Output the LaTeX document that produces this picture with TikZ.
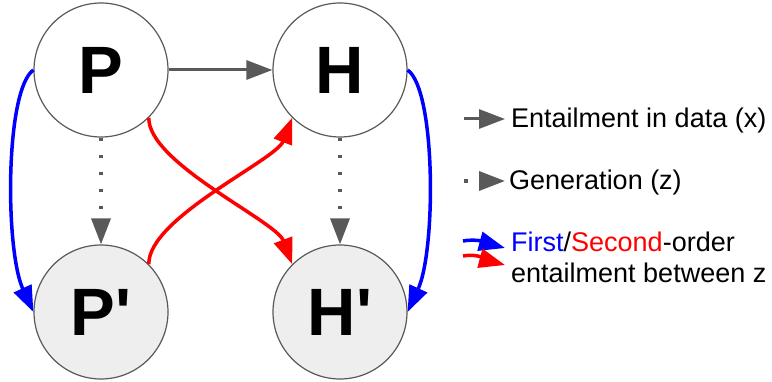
\documentclass[tikz,border=0pt]{standalone}
\usepackage{fontspec}
\setmainfont{Liberation Sans}[Ligatures=TeXOff]
\usepackage{xcolor}
\usetikzlibrary{arrows.meta}
\definecolor{edgegray}{HTML}{595959}
\definecolor{fillgray}{HTML}{EEEEEE}
\definecolor{firstblue}{HTML}{0000FF}
\definecolor{secondred}{HTML}{FF0000}

\tikzset{
	var/.style={circle, draw=edgegray, line width=1.2pt, minimum size=134pt, inner sep=0pt,
		font=\bfseries\fontsize{67}{67}\selectfont},
	latent/.style={var, fill=fillgray},
	tip/.style={-{Triangle[length=26pt,width=19pt]}},
	entail/.style={tip, edgegray, line width=3pt},
	gen/.style={tip, edgegray, line width=3.5pt, dash pattern=on 3.5pt off 13.5pt},
	first/.style={tip, firstblue, line width=3.5pt},
	second/.style={tip, secondred, line width=3.5pt},
	legend/.style={anchor=base west, inner sep=0pt, font=\fontsize{27}{27}\selectfont}
}

\begin{document}
\begin{tikzpicture}[x=1pt, y=1pt]
	\useasboundingbox (0,0) rectangle (772,381);
	\node[var] (P) at (101,311) {P};
	\node[var] (H) at (340,311) {H};
	\node[latent] (Pz) at (101,69) {P'};
	\node[latent] (Hz) at (340,69) {H'};
	\draw[entail] (P) -- (H);
	\foreach \a/\b in {P/Pz, H/Hz}{
		\draw[gen] (\a.south) -- (\b.north);
	}
	\draw[first] (P.west) .. controls (5,291) and (5,131) .. (Pz.west);
	\draw[first] (H.east) .. controls (436,291) and (436,131) .. (Hz.east);
	\draw[second] (P.south east) .. controls (148,218) and (276,160) .. (Hz.north west);
	\draw[second] (Pz.north east) .. controls (148,163) and (276,221) .. (H.south west);
	% legend
	\node[legend] (lx) at (511,253) {Entailment in data (x)};
	\node[legend] (lz) at (509,192) {Generation (z)};
	\node[legend] (lo) at (511,130) {\textcolor{firstblue}{First}/\textcolor{secondred}{Second}-order};
	\node[legend] (lo2) at (511,99) {entailment between z};
	\coordinate (ex0) at (464,262);
	\coordinate (ex1) at (505,262);
	\coordinate (ez0) at (464,200);
	\coordinate (ez1) at (505,200);
	\coordinate (ef0) at (463,140);
	\coordinate (ef1) at (505,133);
	\coordinate (es0) at (463,125);
	\coordinate (es1) at (505,116);
	\draw[entail] (ex0) -- (ex1);
	\draw[gen] (ez0) -- (ez1);
	\draw[first] (ef0) to[out=10, in=165] (ef1);
	\draw[second] (es0) to[out=10, in=165] (es1);
\end{tikzpicture}
\end{document}
